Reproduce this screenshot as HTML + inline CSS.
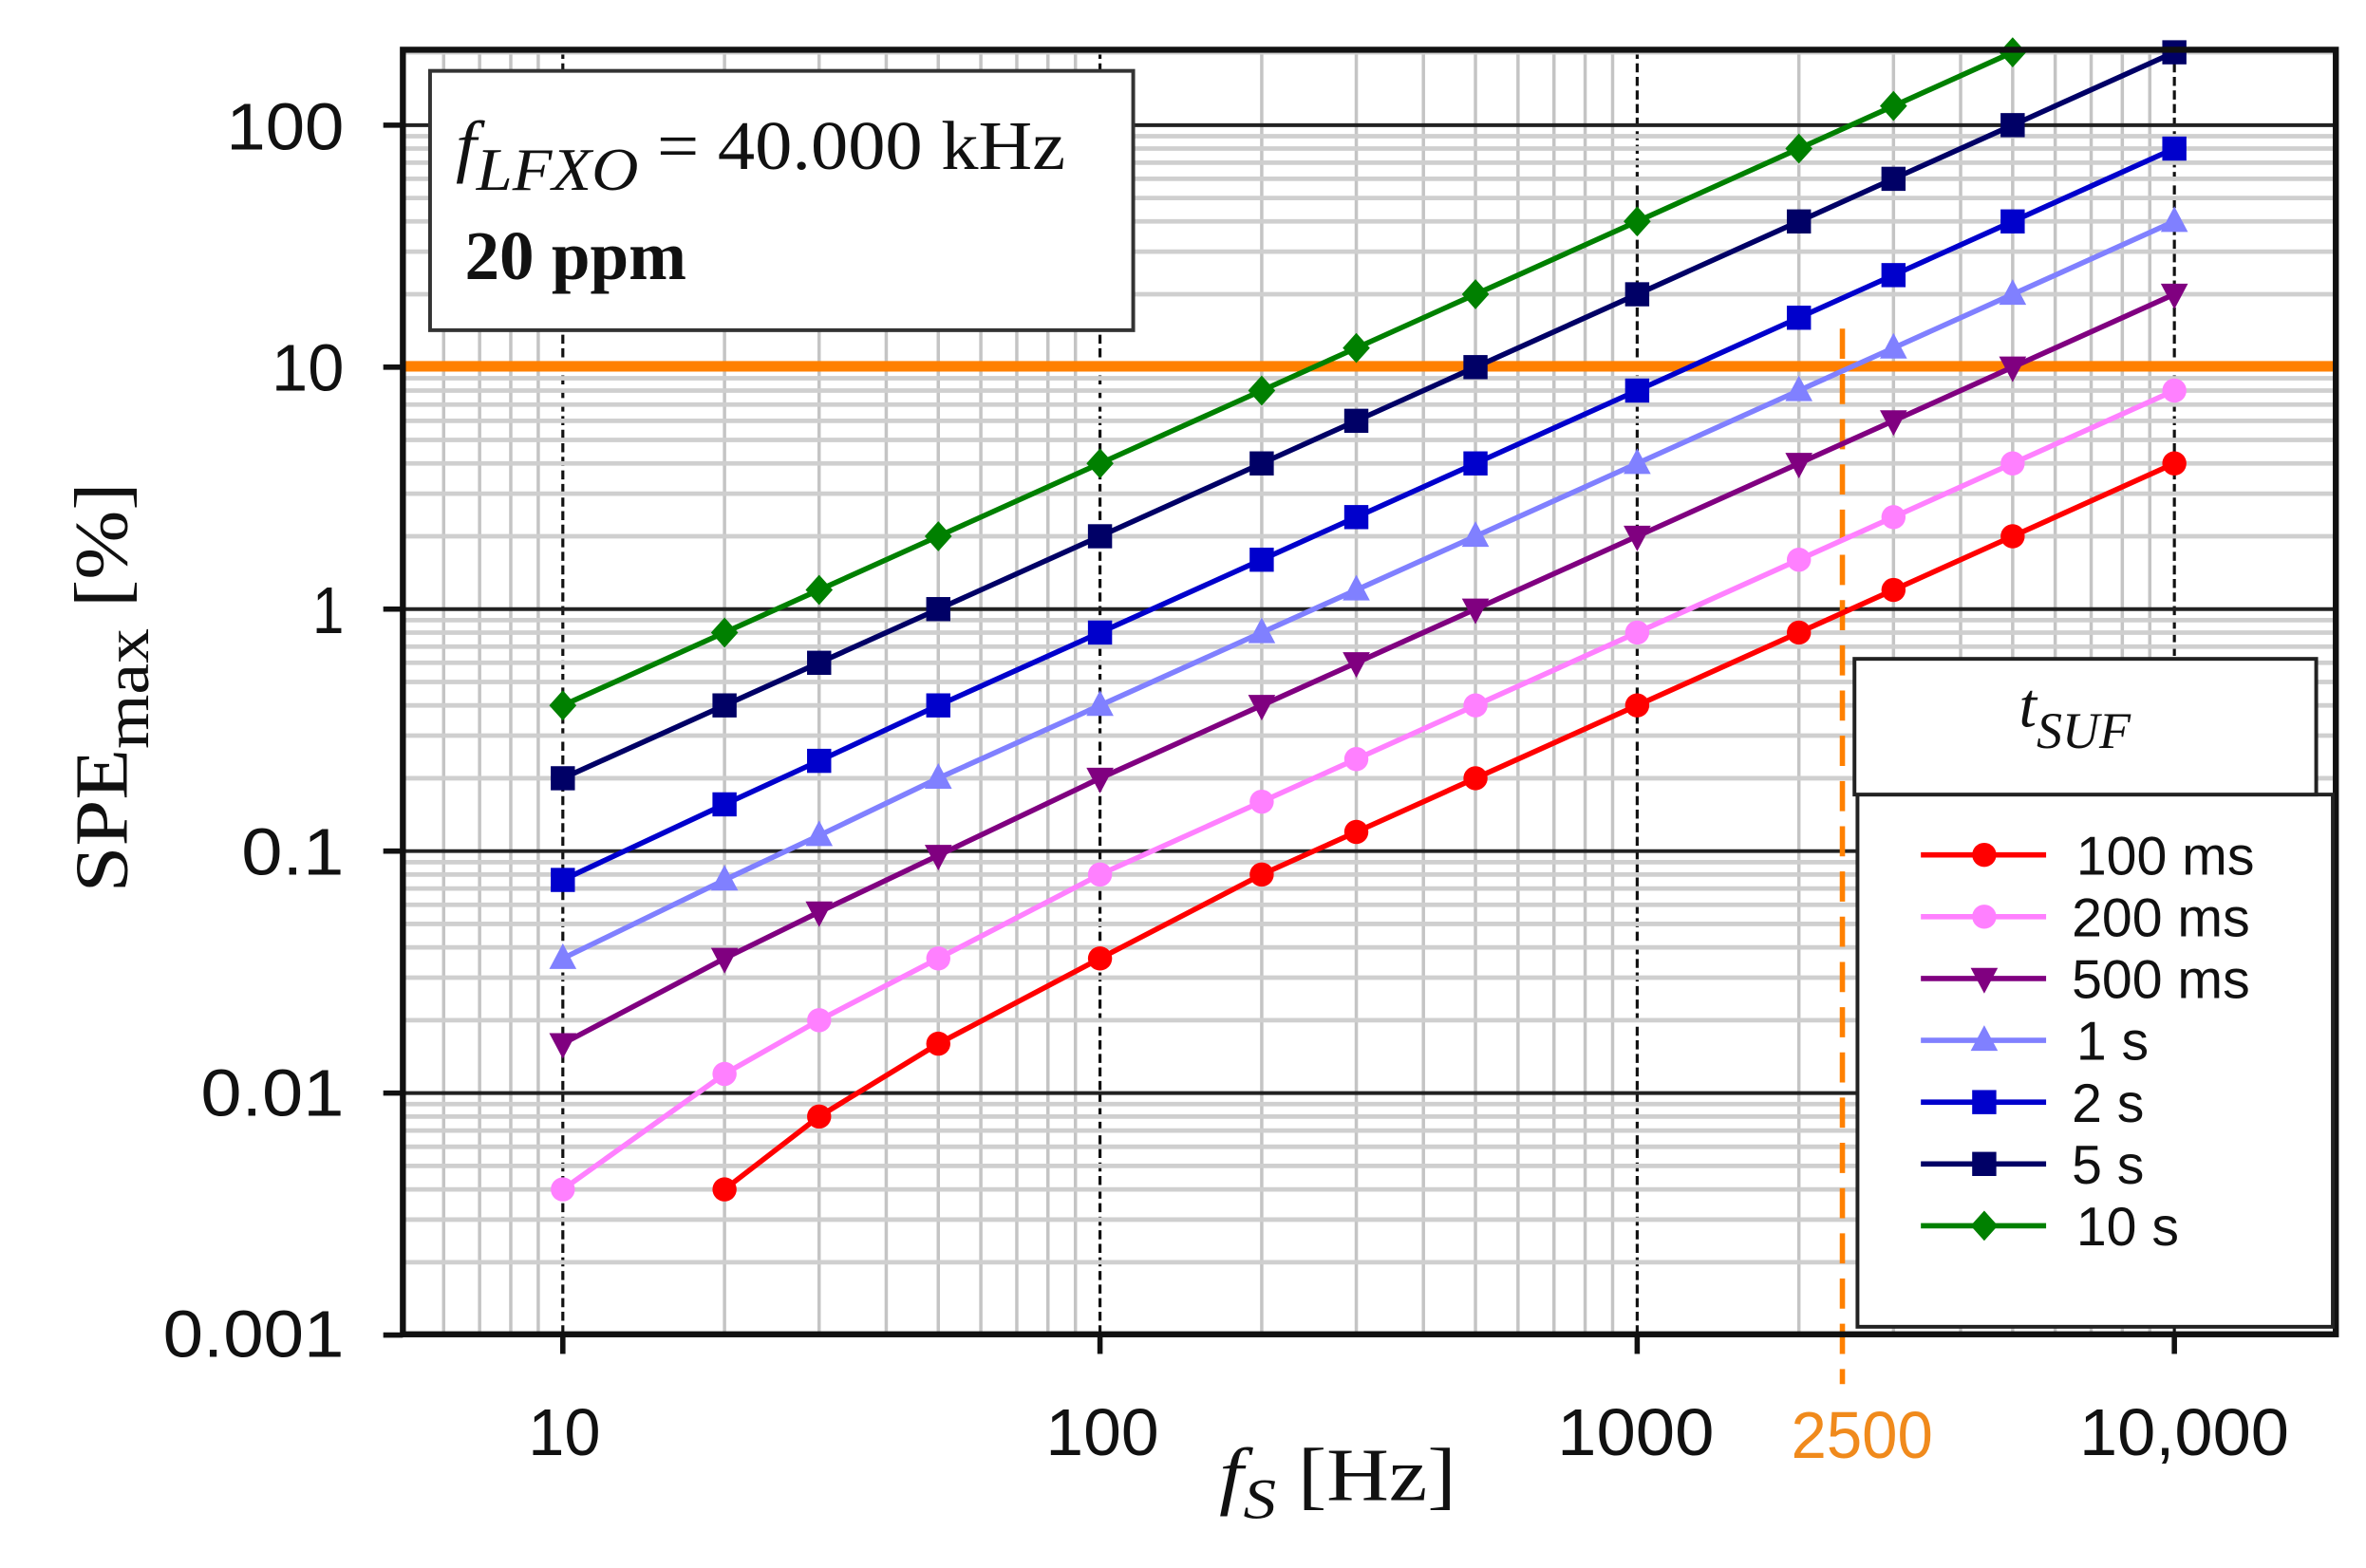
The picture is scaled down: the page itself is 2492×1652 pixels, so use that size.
<!DOCTYPE html>
<html><head><meta charset="utf-8"><style>
html,body{margin:0;padding:0;background:#fff}
svg{display:block}
.t{font-family:"Liberation Sans",Arial,sans-serif;fill:#111}
.s{font-family:"Liberation Serif","Times New Roman",serif;fill:#111}
</style></head><body>
<svg id="c" width="2492" height="1652" viewBox="0 0 1568 1040" preserveAspectRatio="none" xmlns="http://www.w3.org/2000/svg">
<rect width="1568" height="1040" fill="#fff"/>
<g id="grid"></g>
<line x1="267" y1="243" x2="1548" y2="243" stroke="#ff8000" stroke-width="7"/>
<line x1="1221" y1="218" x2="1221" y2="918" stroke="#ff8000" stroke-width="3.5" stroke-dasharray="20,10"/>
<g id="series"></g>
<rect x="267" y="33" width="1281" height="852" fill="none" stroke="#111" stroke-width="4"/>
<g id="ticks"></g>
<rect x="285" y="47" width="466" height="172" fill="#fff" stroke="#333" stroke-width="2.5"/>
<text class="s" x="302" y="112" font-size="46" textLength="404" lengthAdjust="spacingAndGlyphs"><tspan font-style="italic">f</tspan><tspan font-style="italic" font-size="40" dy="14">LFXO</tspan><tspan dy="-14"> = 40.000 kHz</tspan></text>
<text class="s" x="308" y="185" font-size="46" font-weight="bold">20 ppm</text>
<rect x="1231" y="527" width="315" height="353" fill="#fff" stroke="#222" stroke-width="2.5"/>
<rect x="1229" y="437" width="306" height="90" fill="#fff" stroke="#222" stroke-width="2.5"/>
<text class="s" x="1338" y="482" font-size="42" font-style="italic">t<tspan font-size="34" dy="14">SUF</tspan></text>
<g id="leg"></g>
<g class="t" font-size="36">
<text x="1376" y="580">100 ms</text>
<text x="1373" y="621">200 ms</text>
<text x="1373" y="662">500 ms</text>
<text x="1376" y="703">1 s</text>
<text x="1373" y="744">2 s</text>
<text x="1373" y="785">5 s</text>
<text x="1376" y="826">10 s</text>
</g>
<g class="t" font-size="44">
<text x="150" y="99" textLength="78" lengthAdjust="spacingAndGlyphs">100</text>
<text x="180" y="259" textLength="48" lengthAdjust="spacingAndGlyphs">10</text>
<text x="207" y="420" textLength="21" lengthAdjust="spacingAndGlyphs">1</text>
<text x="160" y="580" textLength="68" lengthAdjust="spacingAndGlyphs">0.1</text>
<text x="133" y="740" textLength="95" lengthAdjust="spacingAndGlyphs">0.01</text>
<text x="108" y="900" textLength="120" lengthAdjust="spacingAndGlyphs">0.001</text>
<text x="350" y="965" textLength="48" lengthAdjust="spacingAndGlyphs">10</text>
<text x="693" y="965" textLength="75" lengthAdjust="spacingAndGlyphs">100</text>
<text x="1032" y="965" textLength="104" lengthAdjust="spacingAndGlyphs">1000</text>
<text x="1378" y="965" textLength="139" lengthAdjust="spacingAndGlyphs">10,000</text>
<text x="1187" y="967" textLength="94" lengthAdjust="spacingAndGlyphs" style="fill:#f08a1c">2500</text>
</g>
<text class="s" x="808" y="995" font-size="50" textLength="157" lengthAdjust="spacingAndGlyphs"><tspan font-style="italic">f</tspan><tspan font-style="italic" font-size="38" dy="12">S</tspan><tspan dy="-12"> [Hz]</tspan></text>
<text class="s" transform="translate(84,592) rotate(-90)" font-size="50" textLength="272" lengthAdjust="spacingAndGlyphs">SPE<tspan font-size="42" dy="14">max</tspan><tspan dy="-14"> [%]</tspan></text>
</svg>
<script>
var NS="http://www.w3.org/2000/svg";
function X(f){return 373+356*(Math.log10(f)-1);}
function Y(v){return 404-160.5*Math.log10(v);}
function el(p,n,a){var e=document.createElementNS(NS,n);for(var k in a)e.setAttribute(k,a[k]);p.appendChild(e);return e;}
var g=document.getElementById("grid");
for(var d=0;d<=4;d++)for(var m=1;m<10;m++){var f=m*Math.pow(10,d);var x=X(f);if(x<=268||x>=1547)continue;
 if(m==1)el(g,"line",{x1:x,y1:33,x2:x,y2:885,stroke:"#111","stroke-width":2,"stroke-dasharray":"6,3"});
 else el(g,"line",{x1:x,y1:33,x2:x,y2:885,stroke:"#c4c4c4","stroke-width":2.2});}
for(var d=-3;d<=2;d++)for(var m=1;m<10;m++){var v=m*Math.pow(10,d);var y=Y(v);if(y<34||y>884)continue;
 if(m==1)el(g,"line",{x1:267,y1:y,x2:1548,y2:y,stroke:"#222","stroke-width":2.5});
 else el(g,"line",{x1:267,y1:y,x2:1548,y2:y,stroke:"#cfcfcf","stroke-width":3});}
var t=document.getElementById("ticks");
for(var d=-3;d<=2;d++){var y=Y(Math.pow(10,d));el(t,"line",{x1:254,y1:y,x2:267,y2:y,stroke:"#111","stroke-width":3.5});}
for(var d=1;d<=4;d++){var x=X(Math.pow(10,d));el(t,"line",{x1:x,y1:885,x2:x,y2:898,stroke:"#111","stroke-width":3.5});}
var F=[10,20,30,50,100,200,300,500,1000,2000,3000,5000,10000];
var S=[
 {c:"#ff0000",m:"o",v:[null,0.004,0.008,0.016,0.036,0.08,0.12,0.2,0.4,0.8,1.2,2,4]},
 {c:"#ff80ff",m:"o",v:[0.004,0.012,0.02,0.036,0.08,0.16,0.24,0.4,0.8,1.6,2.4,4,8]},
 {c:"#800080",m:"v",v:[0.016,0.036,0.056,0.096,0.2,0.4,0.6,1,2,4,6,10,20]},
 {c:"#8080ff",m:"^",v:[0.036,0.076,0.116,0.2,0.4,0.8,1.2,2,4,8,12,20,40]},
 {c:"#0000cc",m:"s",v:[0.076,0.156,0.236,0.4,0.8,1.6,2.4,4,8,16,24,40,80]},
 {c:"#000066",m:"s",v:[0.2,0.4,0.6,1,2,4,6,10,20,40,60,100,200]},
 {c:"#008000",m:"d",v:[0.4,0.8,1.2,2,4,8,12,20,40,80,120,200,null]}];
function mark(p,m,x,y,c){
 if(m=="o")el(p,"circle",{cx:x,cy:y,r:8,fill:c});
 else if(m=="s")el(p,"rect",{x:x-8,y:y-8,width:16,height:16,fill:c});
 else if(m=="v")el(p,"polygon",{points:(x-9)+","+(y-7)+" "+(x+9)+","+(y-7)+" "+x+","+(y+10),fill:c});
 else if(m=="^")el(p,"polygon",{points:(x-9)+","+(y+7)+" "+(x+9)+","+(y+7)+" "+x+","+(y-10),fill:c});
 else el(p,"polygon",{points:x+","+(y-10)+" "+(x+9)+","+y+" "+x+","+(y+10)+" "+(x-9)+","+y,fill:c});}
var sg=document.getElementById("series");
S.forEach(function(s){var pts=[];F.forEach(function(f,i){if(s.v[i]!=null)pts.push([X(f),Y(s.v[i])]);});
 el(sg,"polyline",{points:pts.map(function(p){return p.join(",");}).join(" "),fill:"none",stroke:s.c,"stroke-width":3.5});
 pts.forEach(function(p){mark(sg,s.m,p[0],p[1],s.c);});});
var lg=document.getElementById("leg");
S.forEach(function(s,i){var y=567+41*i;el(lg,"line",{x1:1273,y1:y,x2:1356,y2:y,stroke:s.c,"stroke-width":3.5});mark(lg,s.m,1315,y,s.c);});
</script>
</body></html>
